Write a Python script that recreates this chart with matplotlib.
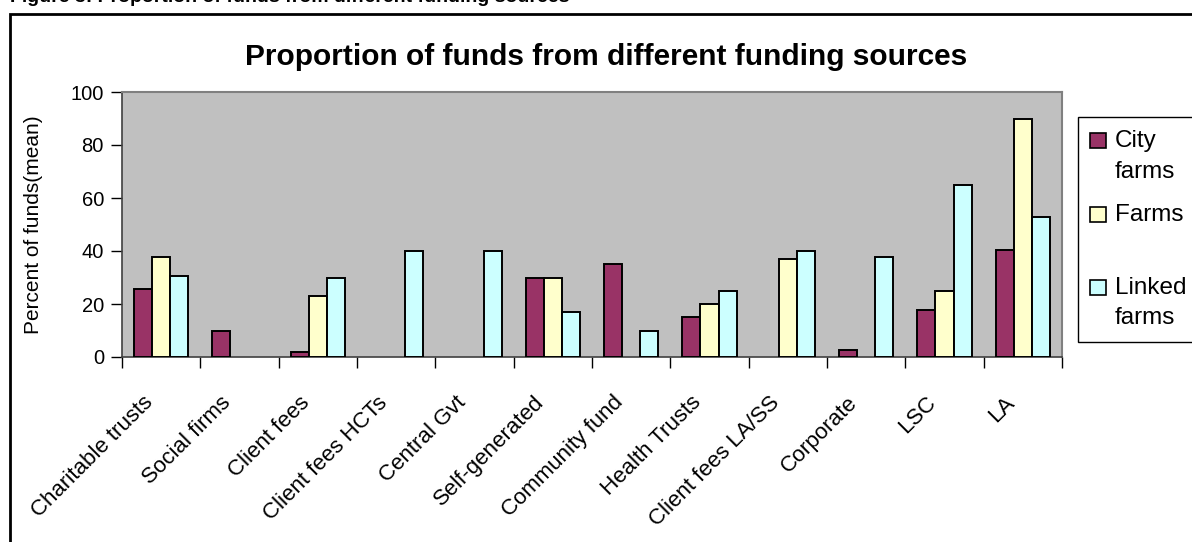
import numpy as np
import matplotlib.pyplot as plt
from matplotlib.patches import Rectangle
from matplotlib.transforms import ScaledTranslation

plt.rcParams['font.family'] = ['Liberation Sans', 'DejaVu Sans']

categories = ["Charitable trusts", "Social firms", "Client fees", "Client fees HCTs",
              "Central Gvt", "Self-generated", "Community fund", "Health Trusts",
              "Client fees LA/SS", "Corporate", "LSC", "LA"]
city_farms = [25.7, 10, 2, 0, 0, 30, 35, 15, 0, 2.7, 17.7, 40.5]
farms = [37.7, 0, 23, 0, 0, 30, 0, 20, 37, 0, 25, 90]
linked_farms = [30.5, 0, 30, 40, 40, 17, 10, 25, 40, 37.6, 65, 52.7]
series_names = ["City\nfarms", "Farms", "Linked\nfarms"]
colors = ["#993366", "#FFFFCC", "#CCFFFF"]

W, H = 1192, 542
fig = plt.figure(figsize=(W / 100, H / 100), dpi=100)

# outer chart border (cropped at right and bottom like the original)
fig.patches.append(Rectangle((10 / W, -0.1), 1.2, 1 - 14 / H + 0.1,
                             transform=fig.transFigure, fill=False,
                             edgecolor='black', linewidth=2))
# caption above the chart, cut off by the top edge as in the source
fig.text(10 / W, 1 - 1.5 / H, "Figure 3: Proportion of funds from different funding sources",
         fontsize=14, fontweight='bold', ha='left', va='baseline')

ax = fig.add_axes([122 / W, 1 - 357 / H, (1062 - 122) / W, (357 - 92) / H])
ax.set_facecolor('#C0C0C0')

x = np.arange(len(categories))
w = 0.23
for i, (vals, col) in enumerate(zip([city_farms, farms, linked_farms], colors)):
    v = np.array(vals, dtype=float)
    keep = v > 0
    ax.bar(x[keep] + (i - 1) * w, v[keep], width=w, color=col,
           edgecolor='black', linewidth=1.4, zorder=3)

ax.set_xlim(-0.5, len(categories) - 0.5)
ax.set_ylim(0, 100)
ax.set_yticks(np.arange(0, 101, 20))
ax.tick_params(axis='y', labelsize=14.5, length=8, width=1, direction='out', pad=5)
ax.set_xticks(np.arange(len(categories) + 1) - 0.5)
ax.set_xticklabels([])
ax.set_xticks(x, minor=True)
ax.set_xticklabels(categories, minor=True, rotation=45, ha='right', va='top',
                   rotation_mode='anchor', fontsize=16)
ax.tick_params(axis='x', which='major', length=8, width=1, direction='out')
ax.tick_params(axis='x', which='minor', length=0, pad=0)
shift = ScaledTranslation(-0.19, -0.35, fig.dpi_scale_trans)
for lab in ax.get_xticklabels(minor=True):
    lab.set_transform(lab.get_transform() + shift)

for s in ['top', 'right']:
    ax.spines[s].set_color('#808080')
    ax.spines[s].set_linewidth(1.5)
for s in ['left', 'bottom']:
    ax.spines[s].set_color('#404040')
    ax.spines[s].set_linewidth(1.2)

ax.set_ylabel("Percent of funds(mean)", fontsize=15)
ax.yaxis.set_label_coords(-(122 - 43) / (1062 - 122), 0.5)

fig.text(606 / W, 1 - 57 / H, "Proportion of funds from different funding sources",
         fontsize=21.5, fontweight='bold', ha='center', va='center')

# legend box, built by hand to keep the original spacing
fig.patches.append(Rectangle((1078 / W, 1 - 342 / H), 0.2, (342 - 117) / H,
                             transform=fig.transFigure, facecolor='white',
                             edgecolor='black', linewidth=1))
leg_y = [140, 214, 287]
for name, col, yy in zip(series_names, colors, leg_y):
    fig.patches.append(Rectangle((1090 / W, 1 - (yy + 8) / H), 16 / W, 15 / H,
                                 transform=fig.transFigure, facecolor=col,
                                 edgecolor='black', linewidth=1.2))
    fig.text(1115 / W, 1 - (yy - 10) / H, name, fontsize=17.5, ha='left',
             va='top', linespacing=1.5)

fig.savefig("out.png", dpi=100)
